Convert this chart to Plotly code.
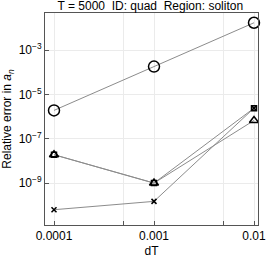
import plotly.graph_objects as go

dT = [1e-4, 1e-3, 1e-2]
err_circle = [1.9e-6, 1.8e-4, 1.7e-2]
err_triangle = [1.9e-8, 1.0e-9, 6.7e-7]
err_square = [1.9e-8, 1.0e-9, 2.4e-6]
err_x = [6.3e-11, 1.5e-10, 2.4e-6]

x_tickvals = [1e-4, 5e-4, 1e-3, 5e-3, 1e-2]
x_ticktext = ["0.0001", "", "0.001", "", "0.01"]
y_tickvals = [1e-9, 1e-7, 1e-5, 1e-3]
y_ticktext = ["10<sup>\u22129</sup>", "10<sup>\u22127</sup>", "10<sup>\u22125</sup>", "10<sup>\u22123</sup>"]

font = "Liberation Sans, Arial, sans-serif"
line_col = "#8c8c8c"

fig = go.Figure()
series = [
    (err_circle, "circle-open", 11),
    (err_triangle, "triangle-up-open", 8),
    (err_square, "square-open", 5),
    (err_x, "x-thin-open", 5),
]
for ys, sym, sz in series:
    fig.add_trace(go.Scatter(
        x=dT, y=ys, mode="lines",
        line=dict(color=line_col, width=1),
        showlegend=False, hoverinfo="skip", cliponaxis=False))
for ys, sym, sz in series:
    fig.add_trace(go.Scatter(
        x=dT, y=ys, mode="markers",
        marker=dict(symbol=sym, size=sz, color="black",
                    line=dict(color="black", width=1.5)),
        showlegend=False, cliponaxis=False))

fig.update_layout(
    width=266, height=258,
    margin=dict(l=45, r=8, t=13, b=33, autoexpand=False),
    paper_bgcolor="white", plot_bgcolor="white",
    font=dict(family=font, size=12, color="black"),
    title=dict(text="T = 5000\u00a0\u00a0ID: quad\u00a0\u00a0Region: soliton",
               x=0.565, xanchor="center", y=0.977, yanchor="middle",
               font=dict(size=12, color="black")),
)
fig.update_xaxes(
    type="log", range=[-4.09, -1.96], automargin=False,
    tickvals=x_tickvals, ticktext=x_ticktext, ticklabeloverflow="allow",
    ticks="inside", ticklen=4, tickcolor="#555",
    showline=True, linecolor="#555", linewidth=1, mirror=True,
    showgrid=True, gridcolor="#ebebeb", gridwidth=1,
    zeroline=False,
    title=dict(text="dT", font=dict(size=12)),
    tickfont=dict(size=12),
)
fig.update_yaxes(
    type="log", range=[-10.89, -1.33], automargin=False,
    tickvals=y_tickvals, ticktext=y_ticktext, ticklabeloverflow="allow",
    ticks="inside", ticklen=4, tickcolor="#555",
    showline=True, linecolor="#555", linewidth=1, mirror=True,
    showgrid=True, gridcolor="#ebebeb", gridwidth=1,
    zeroline=False,
    title=dict(text="Relative error in <i>a</i><sub><i>n</i></sub>", font=dict(size=12)),
    tickfont=dict(size=12),
)
fig.write_html("out.html", config={"displayModeBar": False},
               post_script="document.body.style.margin='0';")
